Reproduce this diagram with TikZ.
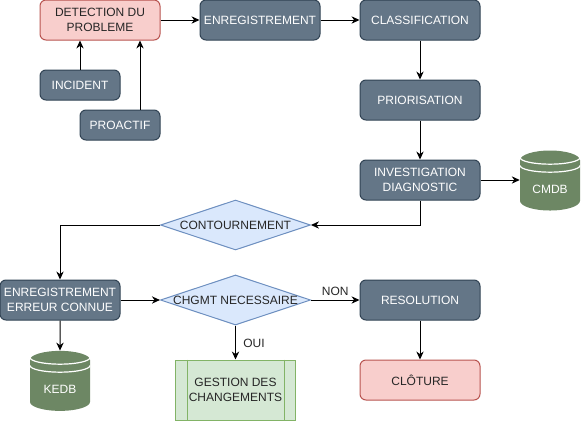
\documentclass[tikz,border=0pt]{standalone}
\usepackage{xcolor}
\usepackage{fontspec}
\setmainfont{Liberation Sans}
\usetikzlibrary{shapes.geometric, arrows.meta, calc}
\definecolor{slatefill}{HTML}{647687}
\definecolor{slateline}{HTML}{314354}
\definecolor{redfill}{HTML}{F8CECC}
\definecolor{redline}{HTML}{B85450}
\definecolor{bluefill}{HTML}{DAE8FC}
\definecolor{blueline}{HTML}{6C8EBF}
\definecolor{greenfill}{HTML}{D5E8D4}
\definecolor{greenline}{HTML}{82B366}
\definecolor{dbfill}{HTML}{6D8764}
\tikzset{
    box/.style={rectangle, rounded corners=4.5pt, line width=0.75pt, inner sep=0pt, minimum width=90pt, minimum height=30pt, align=center, font=\fontsize{9}{11.25}\selectfont},
    stepbox/.style={box, draw=slateline, fill=slatefill, text=white},
    redbox/.style={box, draw=redline, fill=redfill, text=black!85},
    smallbox/.style={stepbox, minimum width=60pt, minimum height=22.5pt},
    decision/.style={diamond, draw=blueline, fill=bluefill, line width=0.75pt, inner sep=0pt, minimum width=112.5pt, minimum height=37.5pt, aspect=3, text=black!85, font=\fontsize{9}{11.25}\selectfont},
    subprocess/.style={rectangle, draw=greenline, fill=greenfill, line width=0.75pt, inner sep=0pt, minimum width=90pt, minimum height=45pt, align=center, text=black!85, font=\fontsize{9}{11.25}\selectfont},
    database/.style={cylinder, shape border rotate=90, aspect=0.55, fill=dbfill, inner sep=0pt, minimum height=45pt, minimum width=45pt, text=white, font=\fontsize{9}{11.25}\selectfont},
    link/.style={-{Stealth[length=6pt,width=5.5pt]}, line width=0.75pt, color=black},
    edgelabel/.style={text=black!85, inner sep=2pt, font=\fontsize{9}{11.25}\selectfont},
}
\begin{document}
\begin{tikzpicture}[x=0.75pt, y=-0.75pt]
    \useasboundingbox (0,0) rectangle (581,421);

    % Top row
    \node[redbox] (detection) at (100,20) {DETECTION DU\\PROBLEME};
    \node[stepbox] (enregistrement) at (260,20) {ENREGISTREMENT};
    \node[stepbox] (classification) at (420,20) {CLASSIFICATION};
    \node[smallbox] (incident) at (80,85) {INCIDENT};
    \node[smallbox] (proactif) at (120,125) {PROACTIF};

    % Right column
    \node[stepbox] (priorisation) at (420,100) {PRIORISATION};
    \node[stepbox] (investigation) at (420,180) {INVESTIGATION\\DIAGNOSTIC};
    \node[database] (cmdb) at (550,185.5) {\raisebox{-5.8pt}[0pt][0pt]{CMDB}};
    \node[decision] (contournement) at (235.5,225) {CONTOURNEMENT};

    % Bottom rows
    \node[stepbox] (erreur) at (60,300) {ENREGISTREMENT\\ERREUR CONNUE};
    \node[decision] (chgmt) at (235.5,300) {CHGMT NECESSAIRE};
    \node[stepbox] (resolution) at (420,300) {RESOLUTION};
    \node[database] (kedb) at (60,385.5) {\raisebox{-5.8pt}[0pt][0pt]{KEDB}};
    \node[subprocess] (gestion) at (235.5,390) {GESTION DES\\CHANGEMENTS};
    \node[redbox] (cloture) at (420,380) {CLÔTURE};

    % Details of the shapes
    \draw[greenline, line width=0.75pt] ([xshift=9pt]gestion.north west) -- ([xshift=9pt]gestion.south west);
    \draw[greenline, line width=0.75pt] ([xshift=-9pt]gestion.north east) -- ([xshift=-9pt]gestion.south east);
    \foreach \db in {cmdb, kedb} {
        \draw[white, line width=0.9pt] ($(\db.center)+(-30,-28)$) arc[start angle=180, end angle=360, x radius=22.5pt, y radius=5pt];
        \draw[white, line width=0.9pt] ($(\db.center)+(-30,-20)$) arc[start angle=180, end angle=360, x radius=22.5pt, y radius=5pt];
    }

    % Connections
    \draw[link] (detection) -- (enregistrement);
    \draw[link] (enregistrement) -- (classification);
    \draw[link] (classification) -- (priorisation);
    \draw[link] (priorisation) -- (investigation);
    \draw[link] (investigation.east) -- (investigation.east -| cmdb.west);
    \draw[link] (incident.north) -- (incident.north |- detection.south);
    \draw[link] ([xshift=15pt]proactif.north) -- ([xshift=15pt]proactif.north |- detection.south);
    \draw[link] (investigation.south) |- (contournement.east);
    \draw[link] (contournement.west) -| (erreur.north);
    \draw[link] (erreur) -- (chgmt);
    \draw[link] (erreur) -- (kedb);
    \draw[link] (chgmt) -- node[edgelabel, right, xshift=3.5pt, yshift=-1pt] {OUI} (gestion);
    \draw[link] (chgmt) -- node[edgelabel, above, yshift=1pt] {NON} (resolution);
    \draw[link] (resolution) -- (cloture);
\end{tikzpicture}
\end{document}
